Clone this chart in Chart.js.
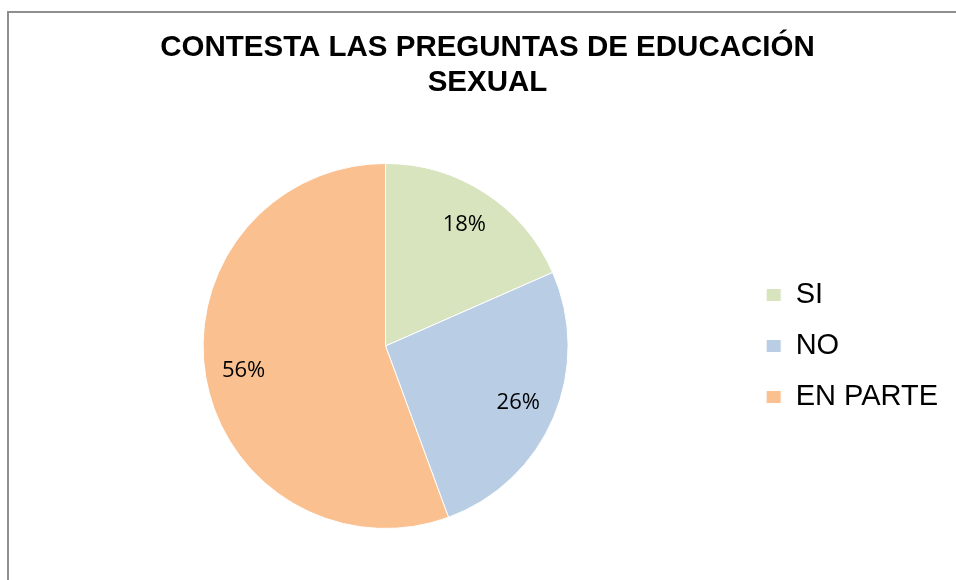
<!DOCTYPE html>
<html>
<head>
<meta charset="utf-8">
<script src="https://cdn.jsdelivr.net/npm/chart.js@4/dist/chart.umd.min.js"></script>
<style>
  html, body { margin: 0; padding: 0; background: #ffffff; }
  #wrap { position: relative; width: 956px; height: 580px; overflow: hidden; }
  #frame { position: absolute; left: 7px; top: 11px; width: 1000px; height: 700px;
           border-left: 2px solid #8e8e8e; border-top: 2px solid #8e8e8e; box-sizing: border-box; }
  #c { position: absolute; left: 0; top: 0; }
</style>
</head>
<body>
<div id="wrap">
  <div id="frame"></div>
  <canvas id="c" width="956" height="580"></canvas>
</div>
<script>
const titleLines = ['CONTESTA LAS PREGUNTAS DE EDUCACIÓN', 'SEXUAL'];
const categories = ['SI', 'NO', 'EN PARTE'];
const values = [18.4, 26.0, 55.6];
const colors = ['#D7E4BD', '#B9CDE5', '#FAC090'];

const pieLabels = {
  id: 'pieLabels',
  afterDatasetsDraw(chart) {
    const ctx = chart.ctx;
    const ds = chart.data.datasets[0];
    const total = ds.data.reduce((a, b) => a + b, 0);
    const meta = chart.getDatasetMeta(0);
    ctx.save();
    ctx.font = '22px "Open Sans"';
    ctx.fillStyle = '#000000';
    ctx.textAlign = 'center';
    ctx.textBaseline = 'middle';
    meta.data.forEach((arc, i) => {
      const p = arc.getProps(['x', 'y', 'startAngle', 'endAngle', 'outerRadius'], true);
      const mid = (p.startAngle + p.endAngle) / 2;
      const r = p.outerRadius * 0.79;
      const tx = p.x + Math.cos(mid) * r;
      const ty = p.y + Math.sin(mid) * r;
      ctx.fillText(Math.round(ds.data[i] / total * 100) + '%', tx, ty);
    });
    ctx.restore();
  }
};

new Chart(document.getElementById('c'), {
  type: 'pie',
  data: {
    labels: categories,
    datasets: [{
      data: values,
      backgroundColor: colors,
      borderColor: '#ffffff',
      borderWidth: 1
    }]
  },
  options: {
    responsive: false,
    devicePixelRatio: 1,
    animation: false,
    layout: { padding: { left: 27, right: 8, top: 0, bottom: 51 } },
    plugins: {
      title: {
        display: true,
        text: titleLines,
        color: '#000000',
        font: { family: '"Liberation Sans", Arial, sans-serif', size: 29.5, weight: 'bold', lineHeight: 1.186 },
        padding: { top: 30.5, bottom: 62.5 }
      },
      legend: {
        position: 'right',
        fullSize: false,
        labels: {
          color: '#000000',
          boxWidth: 15,
          boxHeight: 13,
          padding: 22,
          font: { family: '"Liberation Sans", Arial, sans-serif', size: 29 }
        }
      },
      tooltip: { enabled: false }
    }
  },
  plugins: [pieLabels]
});
</script>
</body>
</html>
